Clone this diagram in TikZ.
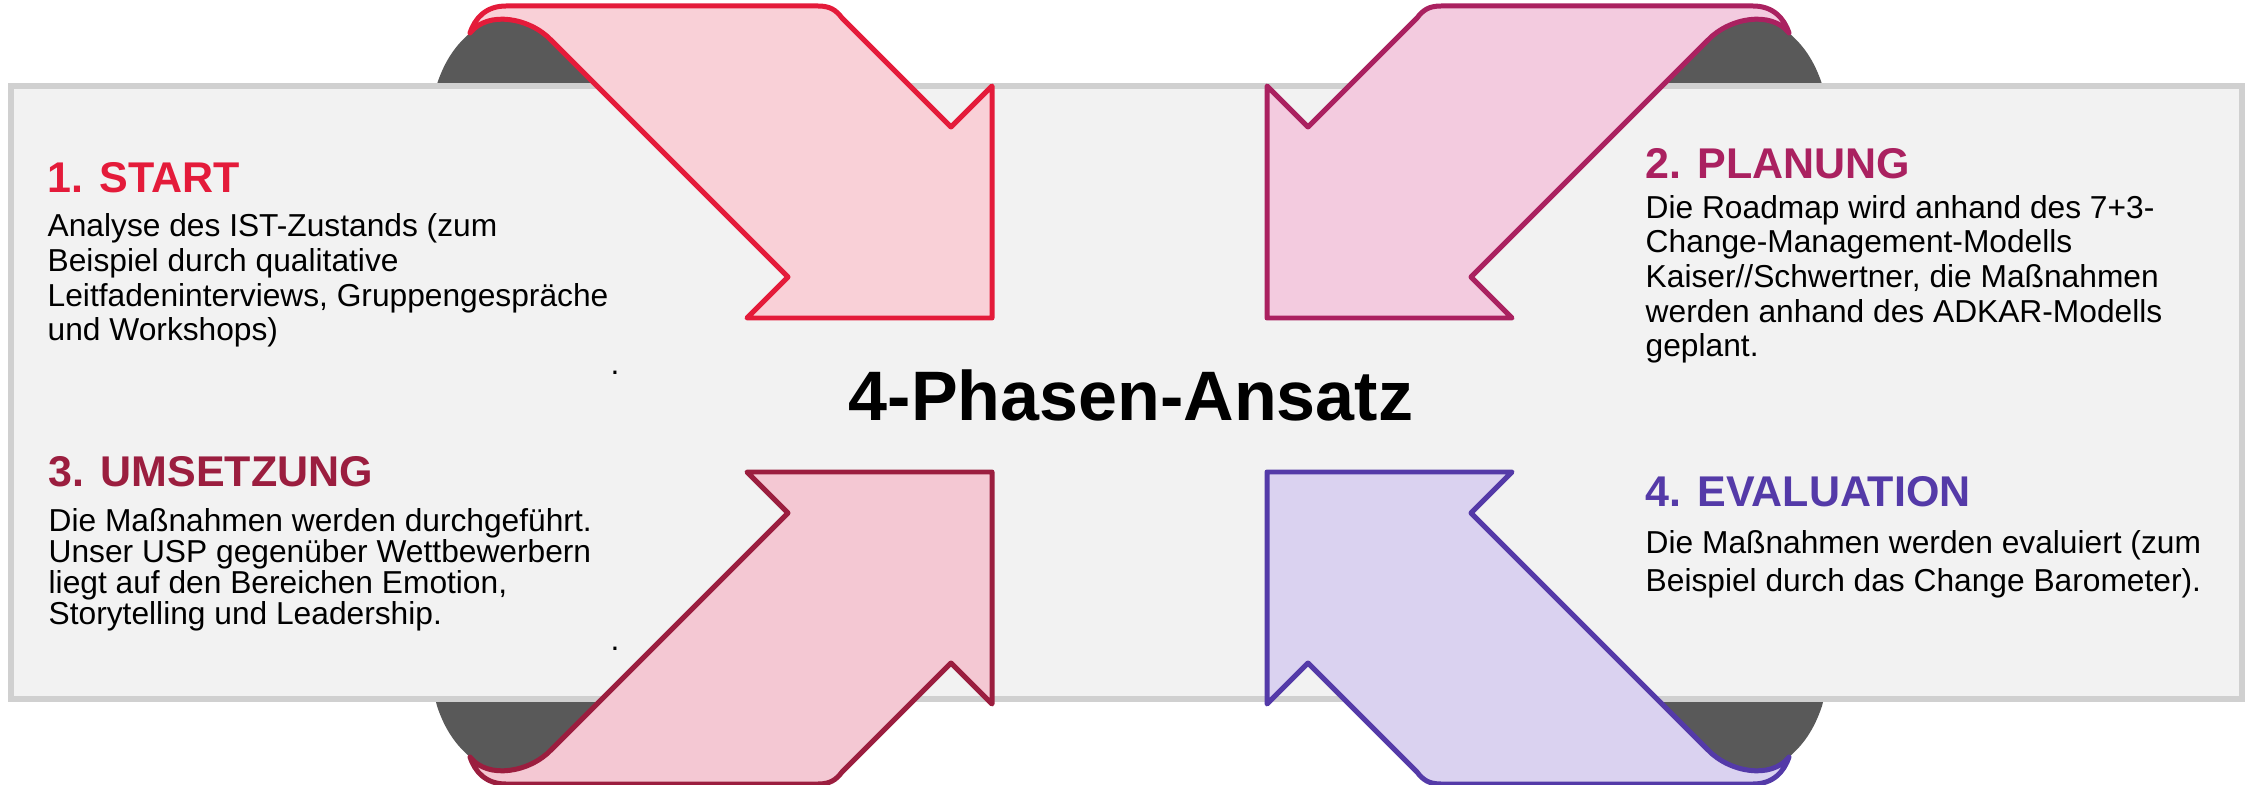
\documentclass[tikz,border=0pt]{standalone}
\usepackage{fontspec}
\setmainfont{Liberation Sans}
\definecolor{cA}{HTML}{E41B3A}
\definecolor{fA}{HTML}{F9D0D7}
\definecolor{cB}{HTML}{AA2160}
\definecolor{fB}{HTML}{F3CBDF}
\definecolor{cC}{HTML}{9B1E3F}
\definecolor{fC}{HTML}{F4C8D3}
\definecolor{cD}{HTML}{543AA8}
\definecolor{fD}{HTML}{DAD2F0}
\definecolor{darkgr}{HTML}{595959}
\definecolor{panelfill}{HTML}{F2F2F2}
\definecolor{panelline}{HTML}{D0D0D0}
\def\arrowpath{(470,33) .. controls (475,18) and (486,6) .. (506,6) -- (818,6) .. controls (830,6) and (836,10) .. (842,18) -- (951,127) -- (992,86) -- (992,318) -- (747,318) -- (788,277) -- (551,40) .. controls (530,18) and (488,10) .. (470,33) -- cycle}
\def\darkpath{(433,100) -- (437,84) .. controls (445,60) and (456,45) .. (470,33) .. controls (488,10) and (530,18) .. (551,40) -- (611,100) -- cycle}
\newcommand{\blines}[2]{\vtop{\baselineskip=#1\lineskiplimit=-20pt\relax #2}}
\begin{document}
\begin{tikzpicture}[x=0.01cm,y=-0.01cm,
  arrowbase/.style={line width=1.42pt, line join=round},
  arrA/.style={arrowbase, draw=cA, fill=fA},
  arrB/.style={arrowbase, draw=cB, fill=fB},
  arrC/.style={arrowbase, draw=cC, fill=fC},
  arrD/.style={arrowbase, draw=cD, fill=fD},
  darkpiece/.style={fill=darkgr, draw=none},
  panelbox/.style={fill=panelfill, draw=panelline, line width=1.85pt},
  ttl/.style={anchor=base west, inner sep=0pt, font=\fontsize{12.23pt}{14pt}\selectfont\bfseries},
  bodytxt/.style={anchor=base west, inner sep=0pt, font=\fontsize{9.02pt}{10pt}\selectfont},
  maintitle/.style={anchor=base, inner sep=0pt, font=\fontsize{19.92pt}{22pt}\selectfont\bfseries}
]
\useasboundingbox (0,0) rectangle (2257,785);
% dark back sides
\path[darkpiece] \darkpath;
\begin{scope}[shift={(2259,0)}, xscale=-1]
  \path[darkpiece] \darkpath;
\end{scope}
\begin{scope}[shift={(0,790)}, yscale=-1]
  \path[darkpiece] \darkpath;
\end{scope}
\begin{scope}[shift={(2259,790)}, xscale=-1, yscale=-1]
  \path[darkpiece] \darkpath;
\end{scope}
% panel
\draw[panelbox] (11,86) rectangle (2242,699);
% arrows
\draw[arrA] \arrowpath;
\begin{scope}[shift={(2259,0)}, xscale=-1]
  \draw[arrB] \arrowpath;
\end{scope}
\begin{scope}[shift={(0,790)}, yscale=-1]
  \draw[arrC] \arrowpath;
\end{scope}
\begin{scope}[shift={(2259,790)}, xscale=-1, yscale=-1]
  \draw[arrD] \arrowpath;
\end{scope}
% texts
\node[maintitle] (title) at (1131,420) {4-Phasen-Ansatz};
\node[ttl, text=cA] (t1) at (47,193) {1. START};
\node[bodytxt] (b1) at (47,236.7) {\blines{9.873pt}{\hbox{Analyse des IST-Zustands (zum}\hbox{Beispiel durch qualitative}\hbox{Leitfadeninterviews, Gruppengespräche}\hbox{und Workshops)}}};
\node[ttl, text=cB] (t2) at (1645,178.3) {2. PLANUNG};
\node[bodytxt] (b2) at (1645,218.3) {\blines{9.845pt}{\hbox{Die Roadmap wird anhand des 7+3-}\hbox{Change-Management-Modells}\hbox{Kaiser//Schwertner, die Maßnahmen}\hbox{werden anhand des ADKAR-Modells}\hbox{geplant.}}};
\node[ttl, text=cC] (t3) at (48,486.7) {3. UMSETZUNG};
\node[bodytxt] (b3) at (48,531.7) {\blines{8.763pt}{\hbox{Die Maßnahmen werden durchgeführt.}\hbox{Unser USP gegenüber Wettbewerbern}\hbox{liegt auf den Bereichen Emotion,}\hbox{Storytelling und Leadership.}}};
\node[ttl, text=cD] (t4) at (1645,506.7) {4. EVALUATION};
\node[bodytxt] (b4) at (1645,553.3) {\blines{10.90pt}{\hbox{Die Maßnahmen werden evaluiert (zum}\hbox{Beispiel durch das Change Barometer).}}};
\node[bodytxt] (dot1) at (610,374) {.};
\node[bodytxt] (dot2) at (610,650) {.};
\end{tikzpicture}
\end{document}
